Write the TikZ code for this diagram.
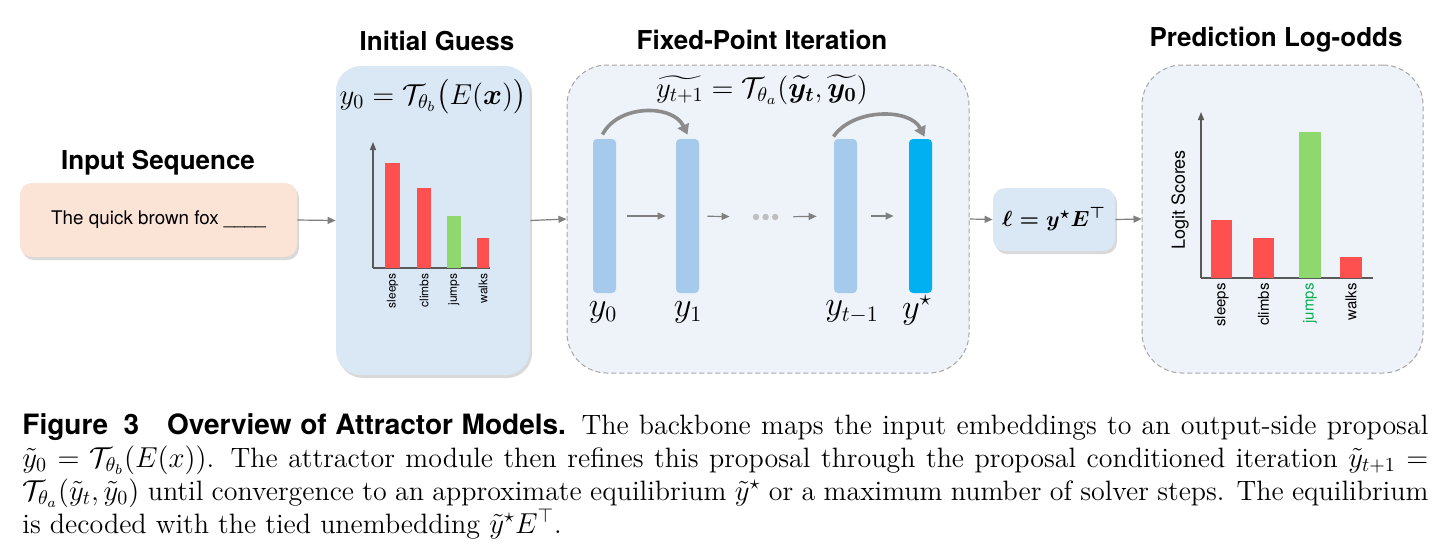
\documentclass[tikz,border=0pt]{standalone}
\usepackage{amsmath}
\usepackage{fontspec}
\newfontfamily\heros{TeX Gyre Heros}
\usetikzlibrary{arrows.meta,shadows}
\definecolor{peach}{HTML}{FBE3D6}
\definecolor{panelblue}{HTML}{DAE7F5}
\definecolor{panelgray}{HTML}{EEF2F9}
\definecolor{dashgray}{HTML}{A6A6A6}
\definecolor{arrgray}{HTML}{7F7F7F}
\definecolor{axisgray}{HTML}{595959}
\definecolor{barred}{HTML}{FF5050}
\definecolor{bargreen}{HTML}{8FD86E}
\definecolor{vecblue}{HTML}{A6CAEC}
\definecolor{vecbright}{HTML}{00B0F0}
\definecolor{labgreen}{HTML}{00B050}
\definecolor{dotgray}{HTML}{BFBFBF}
\definecolor{curvgray}{HTML}{8C8C8C}
\tikzset{
  title/.style={font=\heros\bfseries\fontsize{13}{15}\selectfont, inner sep=0},
  softshadow/.style={drop shadow={shadow xshift=1pt, shadow yshift=-1.5pt, opacity=0.15, fill=black}},
  panel/.style={inner sep=0, fill=panelblue, softshadow},
  dpanel/.style={inner sep=0, fill=panelgray, draw=dashgray, line width=0.5pt, dash pattern=on 2.5pt off 1.5pt, rounded corners=20pt},
  arr/.style={draw=arrgray, line width=0.6pt, -{Triangle[length=4pt,width=3.5pt]}},
  axisl/.style={draw=axisgray, line width=0.6pt},
  axisarr/.style={draw=axisgray, line width=0.6pt, -{Triangle[length=4pt,width=3pt]}},
  rbar/.style={fill=barred, inner sep=0, anchor=south},
  gbar/.style={fill=bargreen, inner sep=0, anchor=south},
  vbar/.style={fill=vecblue, inner sep=0, rounded corners=2pt, minimum width=11.5pt, minimum height=77pt},
  vlab/.style={font=\fontsize{16}{18}\selectfont, inner sep=0},
  smalllab/.style={font=\heros\fontsize{6}{7}\selectfont, rotate=90, anchor=east, inner sep=0},
  midlab/.style={font=\heros\fontsize{7.5}{9}\selectfont, rotate=90, anchor=east, inner sep=0},
  curv/.style={draw=curvgray, line width=1.8pt, -{Triangle[length=5pt,width=6pt]}},
}
\begin{document}
\begin{tikzpicture}[x=0.5pt, y=-0.5pt]
\useasboundingbox[fill=white] (0,0) rectangle (1445,554);

% ---------- titles ----------
\node[title] (tin) at (158,163) {Input Sequence};
\node[title] (tig) at (437,41) {Initial Guess};
\node[title] (tfp) at (762,40) {Fixed-Point Iteration};
\node[title] (tpl) at (1276,40) {Prediction Log-odds};

% ---------- panels ----------
\node[panel, fill=peach, rounded corners=6pt, minimum width=138.5pt, minimum height=37pt,
      font=\heros\fontsize{9.4}{11}\selectfont] (inp) at (158.5,220) {The quick brown fox \_\_\_\_};
\node[panel, rounded corners=12.5pt, minimum width=97pt, minimum height=154.5pt] (ig) at (433,220.5) {};
\node[dpanel, minimum width=201pt, minimum height=154pt] (fp) at (768,219) {};
\node[panel, rounded corners=6pt, minimum width=61pt, minimum height=31.5pt] (ell) at (1054,219.5)
      {\fontsize{11}{13}\selectfont$\boldsymbol{\ell = y^{\star} E^{\top}}$};
\node[dpanel, minimum width=140.5pt, minimum height=154pt] (pl) at (1282.5,219) {};

% ---------- main connectors ----------
\draw[arr] (inp.east) -- (ig.west);
\draw[arr] (ig.east) -- (fp.west);
\draw[arr] (fp.east) -- (ell.west);
\draw[arr] (ell.east) -- (pl.west);

% ---------- initial guess ----------
\node[inner sep=0] (f0) at (433,97) {\fontsize{14}{16}\selectfont$y_0=\mathcal{T}_{\theta_b}\bigl(E(\boldsymbol{x})\bigr)$};
\coordinate (o1) at (373,268);
\draw[axisl] (o1) -- (490,268);
\draw[axisarr] (o1) -- (373,142);
\node[rbar, minimum width=7.5pt, minimum height=52.5pt] (a1) at (392.5,268) {};
\node[rbar, minimum width=7pt, minimum height=40pt] (a2) at (424,268) {};
\node[gbar, minimum width=7pt, minimum height=26pt] (a3) at (454,268) {};
\node[rbar, minimum width=6pt, minimum height=15pt] (a4) at (483,268) {};
\node[smalllab] (al1) at (392.5,273) {sleeps};
\node[smalllab] (al2) at (424,273) {climbs};
\node[smalllab] (al3) at (454,273) {jumps};
\node[smalllab] (al4) at (483,273) {walks};

% ---------- fixed-point iteration ----------
\node[inner sep=0] (f1) at (762,90) {\fontsize{14}{16}\selectfont$\widetilde{y_{t+1}}=\mathcal{T}_{\theta_a}(\widetilde{\boldsymbol{y_t}},\widetilde{\boldsymbol{y_0}})$};
\node[vbar] (b0) at (604.5,216) {};
\node[vbar] (b1) at (687.5,216) {};
\node[vbar] (b2) at (845.5,216) {};
\node[vbar, fill=vecbright] (b3) at (920.5,216) {};
\node[inner sep=0, minimum width=14pt, minimum height=4pt] (dots) at (766,217) {};
\foreach \dx in {2.2,7,11.8} \fill[dotgray] ([xshift=\dx pt]dots.west) circle (1.6pt);
\draw[arr, shorten <=5.5pt, shorten >=5pt] (b0) -- (b1);
\draw[arr, shorten <=4pt, shorten >=11pt] (b1) -- (dots);
\draw[arr, shorten <=6.5pt, shorten >=8.5pt] (dots) -- (b2);
\draw[arr, shorten <=7pt, shorten >=7.5pt] (b2) -- (b3);
\draw[curv] ([xshift=-1pt,yshift=2pt]b0.north) .. controls (618,104) and (673,104) .. ([yshift=2pt]b1.north);
\draw[curv] ([xshift=-6pt,yshift=1pt]b2.north) .. controls (853,108) and (910,108) .. ([xshift=2pt,yshift=1pt]b3.north);
\node[vlab] (y0) at (603,312) {$y_0$};
\node[vlab] (y1) at (688,312) {$y_1$};
\node[vlab] (y2) at (852,312) {$y_{t-1}$};
\node[vlab] (y3) at (917,310) {$y^{\star}$};

% ---------- prediction log-odds ----------
\coordinate (o2) at (1201,278);
\draw[axisl] (o2) -- (1373,278);
\draw[axisarr] (o2) -- (1201,112);
\node[rbar, minimum width=10.5pt, minimum height=29pt] (p1) at (1221.5,278) {};
\node[rbar, minimum width=10.5pt, minimum height=20pt] (p2) at (1263.5,278) {};
\node[gbar, minimum width=11pt, minimum height=73pt] (p3) at (1310,278) {};
\node[rbar, minimum width=11pt, minimum height=10.5pt] (p4) at (1351,278) {};
\node[midlab] (pl1) at (1221.5,283) {sleeps};
\node[midlab] (pl2) at (1263.5,283) {climbs};
\node[midlab, text=labgreen] (pl3) at (1310,283) {jumps};
\node[midlab] (pl4) at (1351,283) {walks};
\node[font=\heros\fontsize{9}{11}\selectfont, rotate=90, inner sep=0] (ls) at (1180,200) {Logit Scores};

% ---------- caption ----------
\node[anchor=north west, text width=703pt, align=justify, inner sep=0,
      font=\fontsize{14}{16.5}\selectfont] (cap) at (22,413)
{{\heros\bfseries Figure\hspace{0.55em}3\quad Overview of Attractor Models.} The backbone maps the input embeddings to an output-side proposal\linebreak
$\tilde{y}_0=\mathcal{T}_{\theta_b}(E(x))$. The attractor module then refines this proposal through the proposal conditioned iteration $\tilde{y}_{t+1}=$\linebreak
$\mathcal{T}_{\theta_a}(\tilde{y}_t,\tilde{y}_0)$ until convergence to an approximate equilibrium $\tilde{y}^{\star}$ or a maximum number of solver steps. The equilibrium\linebreak
is decoded with the tied unembedding $\tilde{y}^{\star}E^{\top}$.};
\end{tikzpicture}
\end{document}
